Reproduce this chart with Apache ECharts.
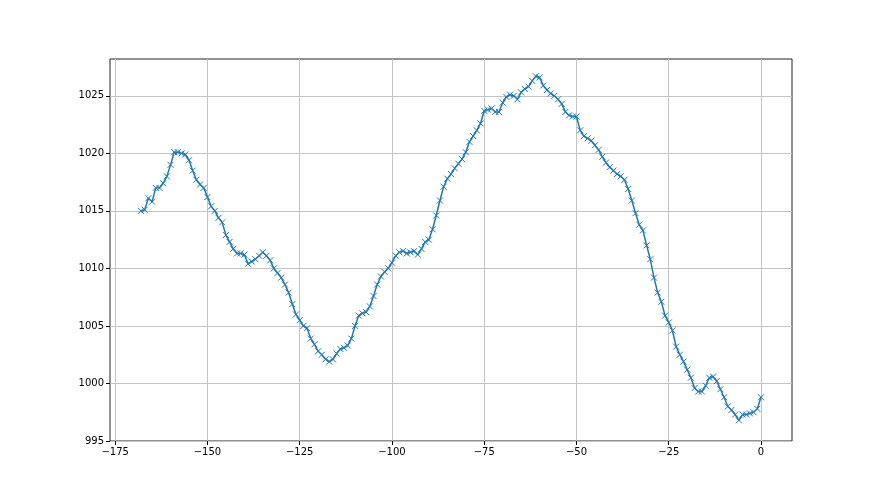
<!DOCTYPE html>
<html>
<head>
<meta charset="utf-8">
<script src="https://cdn.jsdelivr.net/npm/echarts@6/dist/echarts.min.js"></script>
<style>
  html, body { margin: 0; padding: 0; background: #fff; }
  #chart { width: 880px; height: 495px; }
</style>
</head>
<body>
<div id="chart"></div>
<script>
// x from -168 to 0, one reading per unit
const xStart = -168;
const pressure = [
  1015.0, 1015.1, 1016.1, 1015.8, 1017.0, 1017.0, 1017.4, 1018.0, 1019.0, 1020.1,
  1020.1, 1020.0, 1019.9, 1019.4, 1018.5, 1017.7, 1017.3, 1017.0, 1016.2, 1015.4,
  1015.0, 1014.4, 1014.0, 1012.9, 1012.3, 1011.7, 1011.3, 1011.3, 1011.2, 1010.4,
  1010.6, 1010.8, 1011.1, 1011.4, 1011.1, 1010.7, 1010.0, 1009.6, 1009.2, 1008.6,
  1007.9, 1006.9, 1006.0, 1005.5, 1005.0, 1004.8, 1003.9, 1003.4, 1002.8, 1002.5,
  1002.1, 1001.9, 1002.1, 1002.6, 1003.0, 1003.1, 1003.3, 1003.9, 1005.0, 1005.9,
  1006.1, 1006.2, 1006.7, 1007.6, 1008.6, 1009.3, 1009.7, 1010.0, 1010.5, 1011.1,
  1011.4, 1011.5, 1011.3, 1011.4, 1011.5, 1011.2, 1011.7, 1012.3, 1012.5, 1013.4,
  1014.6, 1015.9, 1017.1, 1017.8, 1018.2, 1018.7, 1019.1, 1019.5, 1020.1, 1021.0,
  1021.5, 1022.0, 1022.6, 1023.7, 1023.8, 1023.9, 1023.6, 1023.6, 1024.4, 1024.9,
  1025.1, 1025.0, 1024.7, 1025.3, 1025.6, 1025.8, 1026.3, 1026.7, 1026.6, 1025.9,
  1025.5, 1025.2, 1025.0, 1024.7, 1024.3, 1023.6, 1023.3, 1023.2, 1023.2, 1022.0,
  1021.5, 1021.3, 1021.1, 1020.7, 1020.3, 1019.7, 1019.2, 1018.8, 1018.5, 1018.2,
  1018.0, 1017.7, 1016.9, 1015.9, 1014.8, 1013.8, 1013.3, 1012.0, 1010.8, 1009.2,
  1007.9, 1007.1, 1005.9, 1005.3, 1004.6, 1003.2, 1002.5, 1001.9, 1001.2, 1000.5,
  999.6, 999.3, 999.3, 999.8, 1000.5, 1000.6, 1000.2, 999.5, 998.8, 998.0,
  997.7, 997.3, 996.8, 997.3, 997.3, 997.4, 997.5, 997.8, 998.8
];
const xTicks = [-175, -150, -125, -100, -75, -50, -25, 0];
const yTicks = [995, 1000, 1005, 1010, 1015, 1020, 1025];

const points = pressure.map((v, i) => [xStart + i, v]);

const chart = echarts.init(document.getElementById('chart'));
const minus = v => String(v).replace('-', '\u2212');
const axisCommon = {
  axisLine: { show: false, onZero: false },
  axisTick: { show: true, length: 4, inside: false, lineStyle: { color: '#000', width: 1 } },
  axisLabel: { color: '#000', fontSize: 10, fontFamily: 'DejaVu Sans', formatter: minus },
  splitLine: { show: true, lineStyle: { color: '#c4c4c4', width: 1 } }
};

chart.setOption({
  animation: false,
  backgroundColor: '#fff',
  grid: {
    left: 110, right: 88, top: 59, bottom: 54,
    show: true, borderColor: '#222', borderWidth: 1, backgroundColor: 'transparent'
  },
  xAxis: {
    type: 'value', min: -176.4, max: 8.4,
    ...axisCommon,
    axisTick: { ...axisCommon.axisTick, customValues: xTicks },
    axisLabel: { ...axisCommon.axisLabel, customValues: xTicks, margin: 6 }
  },
  yAxis: {
    type: 'value', min: 995, max: 1028.2,
    ...axisCommon,
    axisTick: { ...axisCommon.axisTick, customValues: yTicks },
    axisLabel: { ...axisCommon.axisLabel, customValues: yTicks, margin: 6 }
  },
  series: [{
    type: 'line',
    data: points,
    symbol: 'path://M0,0L10,10M10,0L0,10',
    symbolSize: 6,
    showAllSymbol: true,
    lineStyle: { color: '#1f77b4', width: 1.5 },
    itemStyle: { color: '#1f77b4', borderColor: '#1f77b4', borderWidth: 1 }
  }]
});
</script>
</body>
</html>
